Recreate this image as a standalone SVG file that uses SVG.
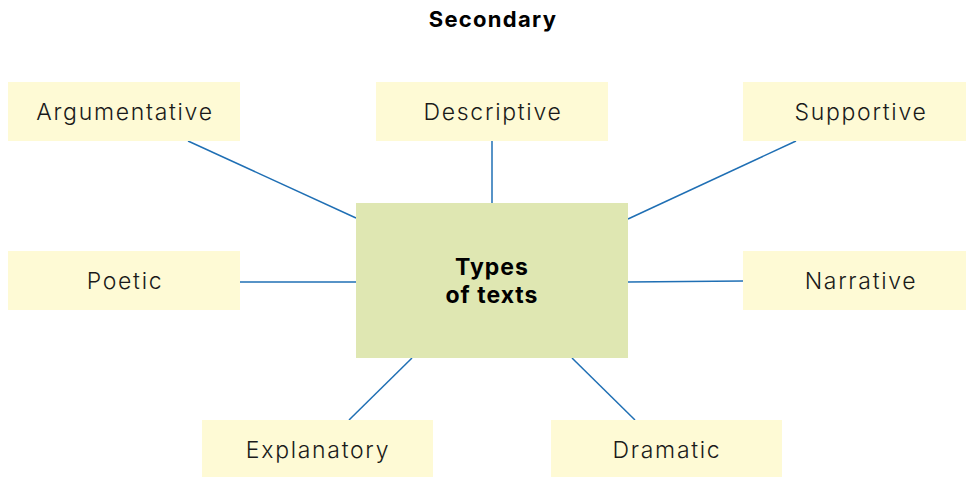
<svg xmlns="http://www.w3.org/2000/svg" width="966" height="477" viewBox="0 0 966 477">
<style>
.box{fill:#fefad5}
.hub{fill:#dfe7b2}
.lbl{font-family:Inter,"Liberation Sans",sans-serif;font-weight:300;font-size:23px;letter-spacing:1.7px;fill:#1a1a1a;text-anchor:middle}
.bold{font-family:Inter,"Liberation Sans",sans-serif;font-weight:700;font-size:22px;letter-spacing:1.3px;fill:#000;text-anchor:middle}
.hubt{font-size:23px;letter-spacing:1px}
.conn line{stroke:#1f6fb4;stroke-width:1.5}
</style>
<rect width="966" height="477" fill="#fff"/>
<text class="bold" x="493" y="27">Secondary</text>
<g class="conn" id="connectors">
<line x1="188" y1="141" x2="356" y2="218"/>
<line x1="492" y1="141" x2="492" y2="203"/>
<line x1="796" y1="141" x2="628" y2="219"/>
<line x1="240" y1="282" x2="356" y2="282"/>
<line x1="628" y1="282" x2="743" y2="281"/>
<line x1="349" y1="420" x2="412" y2="358"/>
<line x1="635" y1="420" x2="572" y2="358"/>
</g>
<g id="hub"><rect class="hub" x="356" y="203" width="272" height="155"/>
<text class="bold hubt" x="492" y="275">Types</text><text class="bold hubt" x="492" y="303">of texts</text></g>
<g id="argumentative"><rect class="box" x="8" y="82" width="232" height="59"/><text class="lbl" x="125" y="120">Argumentative</text></g>
<g id="descriptive"><rect class="box" x="376" y="82" width="232" height="59"/><text class="lbl" x="493" y="120">Descriptive</text></g>
<g id="supportive"><rect class="box" x="743" y="82" width="223" height="59"/><text class="lbl" x="861" y="120">Supportive</text></g>
<g id="poetic"><rect class="box" x="8" y="251" width="232" height="59"/><text class="lbl" x="125" y="289">Poetic</text></g>
<g id="narrative"><rect class="box" x="743" y="251" width="223" height="59"/><text class="lbl" x="861" y="289">Narrative</text></g>
<g id="explanatory"><rect class="box" x="202" y="420" width="231" height="57"/><text class="lbl" x="318" y="458">Explanatory</text></g>
<g id="dramatic"><rect class="box" x="551" y="420" width="231" height="57"/><text class="lbl" x="667" y="458">Dramatic</text></g>
</svg>
